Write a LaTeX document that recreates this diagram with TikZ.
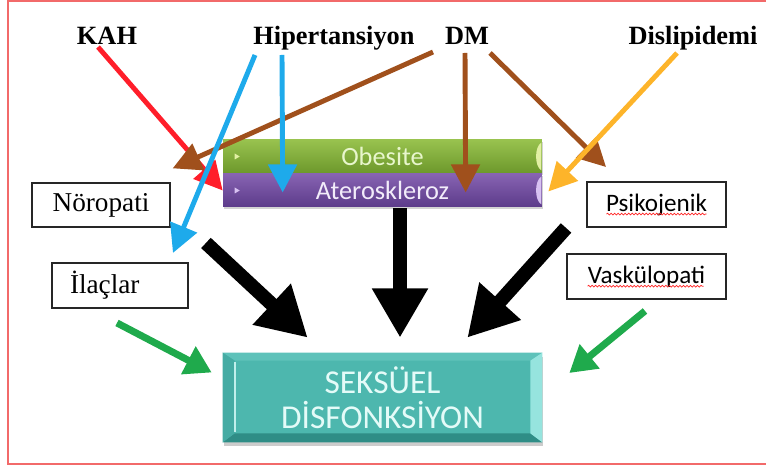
\documentclass[tikz,border=0pt]{standalone}
\usepackage{fontspec}
\setmainfont{Liberation Serif}
\newfontfamily\calibri{Carlito}
\usetikzlibrary{arrows.meta,calc,shadows,decorations.pathmorphing}

\definecolor{framered}{HTML}{F26A6A}
\definecolor{arrred}{HTML}{FF1E2A}
\definecolor{arrblue}{HTML}{1EAAEB}
\definecolor{arrbrown}{HTML}{A0501C}
\definecolor{arryellow}{HTML}{FDB42A}
\definecolor{arrgreen}{HTML}{1FAA4C}
\definecolor{obtop}{HTML}{98C24E}
\definecolor{obbot}{HTML}{6D982C}
\definecolor{obtext}{HTML}{E8F6CC}
\definecolor{obcap}{HTML}{E2F0A4}
\definecolor{attop}{HTML}{8763B2}
\definecolor{atbot}{HTML}{5C3B8A}
\definecolor{attext}{HTML}{F2ECFA}
\definecolor{atcap}{HTML}{D8C2F2}
\definecolor{tealface}{HTML}{4DB7AE}
\definecolor{tealtop}{HTML}{5EC2BA}
\definecolor{tealbot}{HTML}{2F8D86}
\definecolor{tealleft}{HTML}{45ACA4}
\definecolor{tealright}{HTML}{96E4DE}
\definecolor{tealtext}{HTML}{E4FBF8}

\begin{document}
\begin{tikzpicture}[x=0.02cm, y=-0.02cm,
  risk/.style={font=\bfseries\fontsize{15}{18}\selectfont, inner sep=0pt, anchor=base},
  tbox/.style={draw=black!85, line width=1.1pt, inner sep=0pt, minimum height=0.9cm, font=\fontsize{15.5}{18}\selectfont},
  cbox/.style={tbox, font=\calibri\fontsize{14.3}{17}\selectfont},
  bar/.style={minimum width=6.38cm, minimum height=0.66cm, inner sep=0pt, font=\calibri\fontsize{15}{18}\selectfont, drop shadow={shadow xshift=0.6pt, shadow yshift=-1.2pt, opacity=0.35}},
  thinarr/.style={line width=2.8pt, -{Triangle[length=16pt, width=16pt]}},
  bigarr/.style={line width=8pt, black, -{Triangle[length=28pt, width=30pt]}},
  greenarr/.style={line width=4pt, arrgreen, -{Triangle[length=15pt, width=17pt]}},
  spell/.style={red!85, line width=0.4pt, decorate, decoration={snake, amplitude=0.5pt, segment length=2pt}}]
  \useasboundingbox (0,0) rectangle (766,465);
  \draw[framered, line width=1.2pt] (766,1) -- (8,1) -- (8,464) -- (766,464);

  % risk factors
  \node[risk] (kah) at (107,45) {KAH};
  \node[risk] (hiper) at (334,45) {Hipertansiyon};
  \node[risk] (dm) at (467,45) {DM};
  \node[risk] (disli) at (693,45) {Dislipidemi};

  % middle bars
  \node[bar, top color=obtop, bottom color=obbot, text=obtext] (obes) at (382.5,156.5) {Obesite};
  \node[bar, top color=attop, bottom color=atbot, text=attext] (atero) at (382.5,190.5) {Ateroskleroz};
  \fill[obcap] ($(obes.west)+(12,-3)$) -- ++(5,3) -- ++(-5,3) -- cycle;
  \fill[atcap] ($(atero.west)+(12,-3)$) -- ++(5,3) -- ++(-5,3) -- cycle;
  \fill[obcap] ($(obes.north east)+(-1,3)$) .. controls +(-7,4) and +(-7,-4) .. ($(obes.south east)+(-1,-3)$) -- cycle;
  \fill[atcap] ($(atero.north east)+(-1,3)$) .. controls +(-7,4) and +(-7,-4) .. ($(atero.south east)+(-1,-3)$) -- cycle;

  % side boxes
  \node[tbox, minimum width=2.76cm, minimum height=0.88cm] (noro) at (101,205) {Nöropati};
  \node[tbox, minimum width=2.72cm, text width=2cm, inner xsep=0.36cm, align=left] (ilac) at (120,285.5) {İlaçlar};
  \node[cbox, minimum width=2.78cm] (psiko) at (656.5,204.5) {Psikojenik};
  \node[cbox, minimum width=3.18cm] (vasku) at (646.5,276.5) {Vaskülopati};
  \draw[spell] ($(psiko.base)+(-50,3)$) -- ($(psiko.base)+(50,3)$);
  \draw[spell] ($(vasku.base)+(-59,3)$) -- ($(vasku.base)+(57,3)$);

  % result
  \node[minimum width=6.38cm, minimum height=1.78cm, inner sep=0pt, fill=tealface, drop shadow={shadow xshift=0.8pt, shadow yshift=-2pt, opacity=0.4}, text=tealtext, align=center, font=\calibri\fontsize{19}{20}\selectfont] (seks) at (382.5,397.5) {SEKSÜEL\\DİSFONKSİYON};
  \fill[tealtop] (seks.north west) -- (seks.north east) -- ++(-12,8) -- ($(seks.north west)+(12,8)$) -- cycle;
  \fill[tealbot] (seks.south west) -- (seks.south east) -- ++(-12,-9) -- ($(seks.south west)+(12,-9)$) -- cycle;
  \fill[tealleft] (seks.north west) -- ++(12,8) -- ($(seks.south west)+(12,-9)$) -- (seks.south west) -- cycle;
  \fill[tealright] (seks.north east) -- ++(-12,8) -- ($(seks.south east)+(-12,-9)$) -- (seks.south east) -- cycle;
  \draw[tealright!60!white, line width=1.2pt] ($(seks.north west)+(12,9)$) -- ($(seks.south west)+(12,-10)$);

  % arrows
  \draw[thinarr, arrred] ($(kah.base)+(-9,2)$) -- (atero.west);
  \draw[thinarr, arrbrown] ($(dm.base)+(-34,7)$) -- ($(obes.south west)+(-50,-5)$);
  \draw[thinarr, arrblue] ($(hiper.base)+(-79,10)$) -- ($(noro.south east)+(2,25)$);
  \draw[thinarr, arrblue] ($(hiper.base)+(-52,10)$) -- ($(atero.west)+(60,2)$);
  \draw[thinarr, arrbrown] ($(dm.base)+(-2,8)$) -- ($(atero.west)+(243,2)$);
  \draw[thinarr, arrbrown] ($(dm.base)+(23,8)$) -- ($(psiko.north west)+(20,-14)$);
  \draw[thinarr, arryellow] ($(disli.base)+(-16,8)$) -- ($(atero.east)+(6,1)$);

  \draw[bigarr] ($(noro.south east)+(35,15)$) -- ($(seks.north west)+(85,-15)$);
  \draw[bigarr] ($(atero.south)+(17.5,1)$) -- ($(seks.north)+(17.5,-15)$);
  \draw[bigarr] ($(psiko.south west)+(-20,0)$) -- ($(seks.north east)+(-75,-15)$);

  \draw[greenarr] ($(ilac.south)+(-3,14)$) -- ($(seks.west)+(-11,-25)$);
  \draw[greenarr] ($(vasku.south)+(-1.5,11)$) -- ($(seks.east)+(27,-24.5)$);
\end{tikzpicture}
\end{document}
